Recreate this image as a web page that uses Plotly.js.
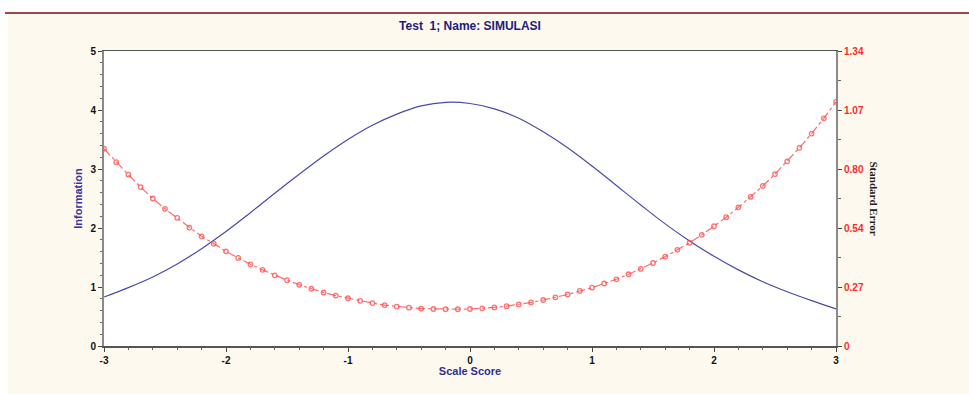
<!DOCTYPE html>
<html>
<head>
<meta charset="utf-8">
<script src="https://cdn.plot.ly/plotly-3.0.1.min.js"></script>
<style>
  html, body { margin: 0; padding: 0; background: #ffffff; width: 969px; height: 394px; overflow: hidden; }
  #topline { position: absolute; left: 5px; top: 12px; width: 964px; height: 0; border-top: 2px solid #a04848; }
  #chart { position: absolute; left: 8px; top: 14px; width: 961px; height: 380px; }
</style>
</head>
<body>
<div id="topline"></div>
<div id="chart"></div>
<script>
// Information curve (left axis)
const infoX = [-3.0,-2.8,-2.6,-2.4,-2.2,-2.0,-1.8,-1.6,-1.4,-1.2,-1.0,-0.8,-0.6,-0.4,-0.2,0.0,
               0.2,0.4,0.6,0.8,1.0,1.2,1.4,1.6,1.8,2.0,2.2,2.4,2.6,2.8,3.0];
const infoY = [0.83,0.99,1.17,1.39,1.65,1.94,2.26,2.59,2.91,3.22,3.50,3.74,3.93,4.07,4.13,4.11,
               4.02,3.86,3.63,3.36,3.05,2.72,2.39,2.07,1.78,1.52,1.29,1.09,0.92,0.77,0.63];

// Standard error curve (right axis)
const seX = [-3.0,-2.9,-2.8,-2.7,-2.6,-2.5,-2.4,-2.3,-2.2,-2.1,-2.0,-1.9,-1.8,-1.7,-1.6,-1.5,
             -1.4,-1.3,-1.2,-1.1,-1.0,-0.9,-0.8,-0.7,-0.6,-0.5,-0.4,-0.3,-0.2,-0.1,0.0,
             0.1,0.2,0.3,0.4,0.5,0.6,0.7,0.8,0.9,1.0,1.1,1.2,1.3,1.4,1.5,
             1.6,1.7,1.8,1.9,2.0,2.1,2.2,2.3,2.4,2.5,2.6,2.7,2.8,2.9,3.0];
const seY = [0.896,0.835,0.778,0.722,0.670,0.623,0.582,0.538,0.498,0.465,0.430,0.400,0.371,0.346,0.321,0.299,
             0.278,0.260,0.243,0.229,0.217,0.205,0.195,0.186,0.179,0.174,0.170,0.168,0.167,0.167,0.168,
             0.171,0.175,0.181,0.189,0.198,0.209,0.221,0.234,0.250,0.265,0.284,0.303,0.326,0.350,0.377,
             0.406,0.437,0.469,0.505,0.544,0.585,0.630,0.677,0.727,0.781,0.839,0.900,0.965,1.034,1.109];

// Tick labels
const xTickVals = [-3,-2,-1,0,1,2,3];
const yTickVals = [0,1,2,3,4,5];
const seTickVals = [0,0.268,0.536,0.804,1.072,1.34];
const seTickText = ["0","0.27","0.54","0.80","1.07","1.34"];

const titleText = "Test&nbsp;&nbsp;1; Name: SIMULASI";
const xTitle = "Scale Score";
const yTitle = "Information";
const y2Title = "Standard Error";

const FONT = "Liberation Sans, Arial, sans-serif";

const traces = [
  {
    x: seX, y: seY, yaxis: "y2", type: "scatter", mode: "lines+markers",
    line: { color: "rgba(255,70,70,0.8)", width: 1.2, dash: "dashdot" },
    marker: { symbol: "circle-open", size: 4.5, color: "rgba(255,80,80,0.8)", line: { width: 1.3 } },
    hoverinfo: "skip"
  },
  {
    x: infoX, y: infoY, yaxis: "y", type: "scatter", mode: "lines",
    line: { color: "#4a4aa8", width: 1.2, shape: "spline", smoothing: 1 },
    hoverinfo: "skip"
  }
];

const layout = {
  width: 961, height: 380,
  paper_bgcolor: "#fef9ee",
  plot_bgcolor: "#ffffff",
  margin: { l: 96, r: 133, t: 37, b: 48 },
  showlegend: false,
  title: {
    text: titleText, x: 0.5, xref: "paper", xanchor: "center",
    y: 0.985, yref: "container", yanchor: "top", pad: { t: 2 },
    font: { family: FONT, size: 12, color: "#1c1c7c", weight: "bold" }
  },
  xaxis: {
    range: [-3, 3], tickvals: xTickVals, ticktext: xTickVals.map(String),
    showgrid: false, zeroline: false,
    showline: true, linecolor: "#555555", linewidth: 1.5, mirror: true,
    ticks: "outside", ticklen: 4, tickwidth: 1, tickcolor: "#444",
    minor: { dtick: 0.2, tick0: -3, ticks: "outside", ticklen: 2.5, tickcolor: "#666", showgrid: false },
    tickfont: { family: FONT, size: 10, color: "#111", weight: "bold" },
    title: { text: xTitle, standoff: 3, font: { family: FONT, size: 11, color: "#2e2e90", weight: "bold" } },
    fixedrange: true
  },
  yaxis: {
    range: [0, 5], tickvals: yTickVals,
    showgrid: false, zeroline: false,
    showline: true, linecolor: "#8a8a8a", linewidth: 2,
    ticks: "outside", ticklen: 4, tickwidth: 1, tickcolor: "#444",
    minor: { dtick: 0.2, tick0: 0, ticks: "outside", ticklen: 2.5, tickcolor: "#666", showgrid: false },
    tickfont: { family: FONT, size: 10, color: "#111", weight: "bold" },
    title: { text: yTitle, standoff: 6, font: { family: FONT, size: 11, color: "#3434a0", weight: "bold" } },
    fixedrange: true
  },
  yaxis2: {
    overlaying: "y", side: "right",
    range: [0, 1.34], tickvals: seTickVals, ticktext: seTickText,
    showgrid: false, zeroline: false,
    showline: true, linecolor: "#8a8a8a", linewidth: 2,
    ticks: "outside", ticklen: 4, tickwidth: 1, tickcolor: "#444",
    minor: { dtick: 0.134, tick0: 0, ticks: "outside", ticklen: 2.5, tickcolor: "#666", showgrid: false },
    tickfont: { family: FONT, size: 10, color: "#ff2a2a", weight: "bold" },
    fixedrange: true
  },
  annotations: [
    {
      text: y2Title, xref: "paper", yref: "paper", x: 1, y: 0.5,
      xanchor: "left", yanchor: "middle", xshift: 30, textangle: 90, showarrow: false,
      font: { family: "Liberation Serif, Times New Roman, serif", size: 11, color: "#222", weight: "bold" }
    }
  ]
};

Plotly.newPlot("chart", traces, layout, { displayModeBar: false, staticPlot: true });
</script>
</body>
</html>
